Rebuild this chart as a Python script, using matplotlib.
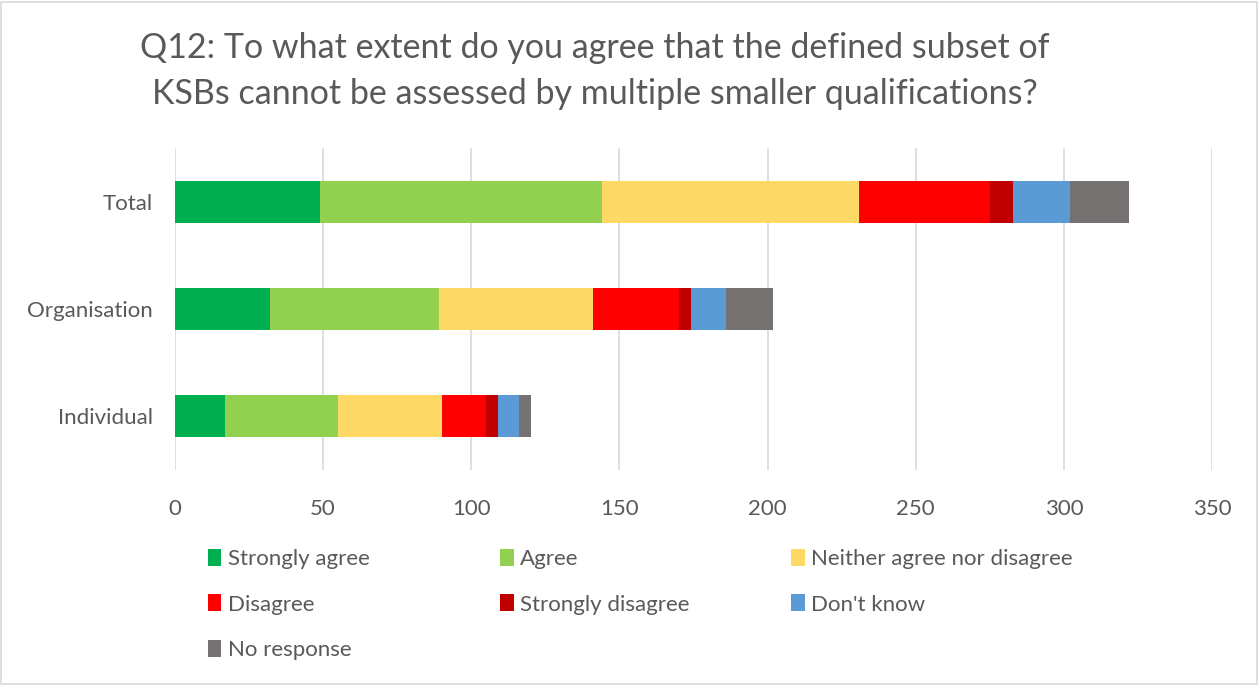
import numpy as np
import matplotlib.pyplot as plt
from matplotlib.patches import Rectangle, Patch

plt.rcParams['font.family'] = ['Lato', 'DejaVu Sans']

categories = ['Individual', 'Organisation', 'Total']
series = ['Strongly agree', 'Agree', 'Neither agree nor disagree', 'Disagree',
          'Strongly disagree', "Don't know", 'No response']
colors = ['#00B050', '#92D050', '#FFD966', '#FF0000', '#C00000', '#5B9BD5', '#767171']

# counts per category (Individual, Organisation, Total)
strongly_agree = [17, 32, 49]
agree = [38, 57, 95]
neither = [35, 52, 87]
disagree = [15, 29, 44]
strongly_disagree = [4, 4, 8]
dont_know = [7, 12, 19]
no_response = [4, 16, 20]

values = [strongly_agree, agree, neither, disagree, strongly_disagree, dont_know, no_response]

fig = plt.figure(figsize=(12.6, 6.85), dpi=100)
ax = fig.add_axes([0.1389, 0.3139, 0.823, 0.470])

y = np.arange(len(categories))
left = np.zeros(len(categories))
handles = []
for name, vals, col in zip(series, values, colors):
    ax.barh(y, vals, left=left, height=0.39, color=col, edgecolor='none')
    left += np.array(vals)
    handles.append(Patch(facecolor=col, label=name))

ax.set_xlim(0, 350)
ax.set_ylim(-0.5, 2.5)
ax.set_xticks(np.arange(0, 351, 50))
ax.set_yticks(y)
ax.set_yticklabels(categories)
ax.grid(axis='x', color='#D9D9D9', linewidth=1.2)
ax.set_axisbelow(True)
for s in ax.spines.values():
    s.set_visible(False)
ax.tick_params(axis='both', length=0, labelsize=16, labelcolor='#595959')
ax.tick_params(axis='x', pad=21)
ax.tick_params(axis='y', pad=16)

fig.text(0.472, 0.896, 'Q12: To what extent do you agree that the defined subset of\n'
         'KSBs cannot be assessed by multiple smaller qualifications?',
         ha='center', va='center', fontsize=24.5, color='#595959', linespacing=1.55)

# legend laid out row-wise in 3 equal-width columns (one legend per column)
columns = [[0, 3, 6], [1, 4], [2, 5]]
col_x = [0.165, 0.397, 0.628]
for idx, cx in zip(columns, col_x):
    leg = fig.legend([handles[i] for i in idx], [series[i] for i in idx],
                     loc='upper left', bbox_to_anchor=(cx, 0.199),
                     frameon=False, fontsize=16, labelcolor='#595959',
                     handlelength=0.6, handleheight=0.8, handletextpad=0.3,
                     labelspacing=1.15, borderpad=0, borderaxespad=0)

fig.patches.append(Rectangle((0.001, 0.002), 0.997, 0.995, transform=fig.transFigure,
                             fill=False, edgecolor='#D9D9D9', linewidth=1.2))

fig.savefig('out.png', dpi=100)
